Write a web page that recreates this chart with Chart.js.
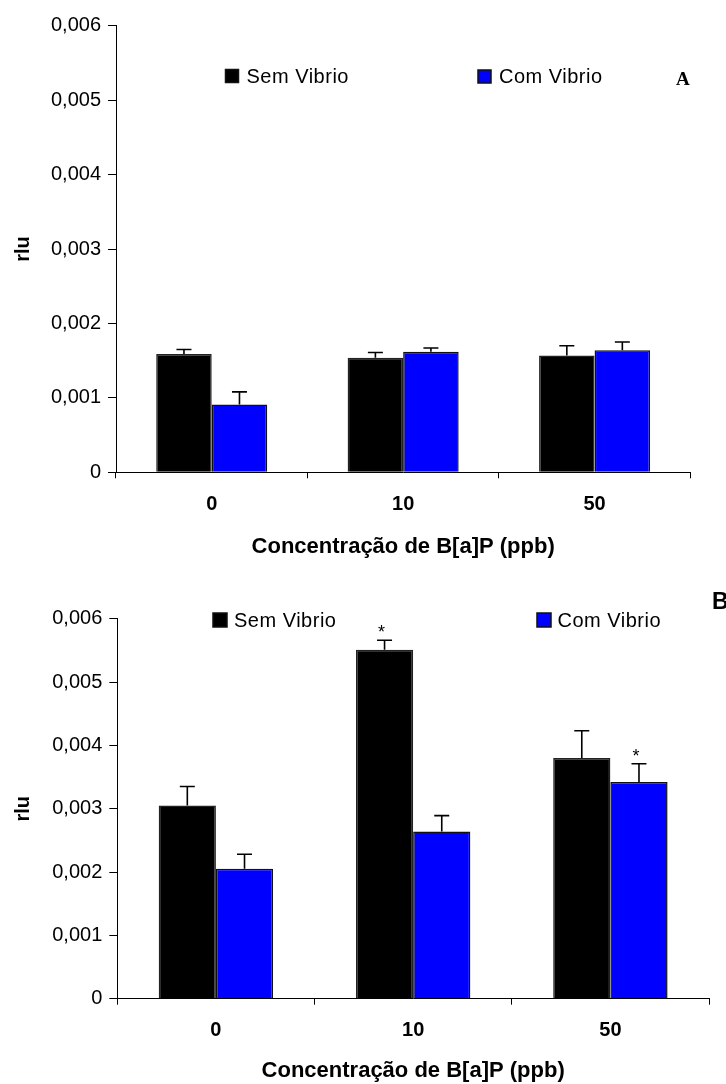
<!DOCTYPE html>
<html>
<head>
<meta charset="utf-8">
<script src="https://cdn.jsdelivr.net/npm/chart.js@4.4.1/dist/chart.umd.min.js"></script>
<style>
  html, body { margin: 0; padding: 0; background: #fff; }
  canvas { position: absolute; left: 0; }
  #chartA { top: 0; }
  #chartB { top: 560px; }
</style>
</head>
<body>
<canvas id="chartA" width="726" height="560"></canvas>
<canvas id="chartB" width="726" height="524"></canvas>
<script>
// B[a]P concentrations (ppb)
const categories = ['0', '10', '50'];
const seriesNames = ['Sem Vibrio', 'Com Vibrio'];
const yTickValues = [0, 0.001, 0.002, 0.003, 0.004, 0.005, 0.006];
const axisTitleX = 'Concentração de B[a]P (ppb)';
const axisTitleY = 'rlu';

// Panel A: means and standard errors
const semA = [0.00159, 0.00154, 0.00157];
const semAErr = [0.00006, 0.00007, 0.00013];
const comA = [0.00091, 0.00162, 0.00164];
const comAErr = [0.00017, 0.00005, 0.00011];

// Panel B: means and standard errors
const semB = [0.00305, 0.00551, 0.00380];
const semBErr = [0.00030, 0.00015, 0.00043];
const comB = [0.00205, 0.00264, 0.00342];
const comBErr = [0.00023, 0.00025, 0.00029];
// significance marks (*)
const semBSig = [false, true, false];
const comBSig = [false, false, true];

const FONT = '"Liberation Sans", Arial, sans-serif';
const BLACK = '#000000';
const BLUE = '#0000ff';

const fmtTick = v => (v === 0 ? '0' : v.toFixed(3).replace('.', ','));

// Upper error bars and significance asterisks
const errorBarPlugin = {
  id: 'errorBars',
  afterDatasetsDraw(chart) {
    const ctx = chart.ctx;
    const yScale = chart.scales.y;
    chart.data.datasets.forEach((ds, i) => {
      const meta = chart.getDatasetMeta(i);
      meta.data.forEach((bar, j) => {
        const top = yScale.getPixelForValue(ds.data[j] + ds.errors[j]);
        ctx.save();
        ctx.strokeStyle = '#000';
        ctx.lineWidth = 1.6;
        ctx.beginPath();
        ctx.moveTo(bar.x, bar.y);
        ctx.lineTo(bar.x, top);
        ctx.moveTo(bar.x - 7.5, top);
        ctx.lineTo(bar.x + 7.5, top);
        ctx.stroke();
        if (ds.signif && ds.signif[j]) {
          ctx.fillStyle = '#000';
          ctx.font = '18px ' + FONT;
          ctx.textAlign = 'center';
          ctx.textBaseline = 'alphabetic';
          ctx.fillText('*', bar.x - 3, top - 2);
        }
        ctx.restore();
      });
    });
  }
};

// Legend entries and panel letter
const decorPlugin = {
  id: 'panelDecor',
  afterDraw(chart, args, opts) {
    const ctx = chart.ctx;
    ctx.save();
    opts.legend.forEach((item, k) => {
      const color = chart.data.datasets[k].backgroundColor;
      ctx.fillStyle = color;
      ctx.fillRect(item.x, item.y, item.s, item.s);
      ctx.strokeStyle = '#111';
      ctx.lineWidth = 1.5;
      ctx.strokeRect(item.x, item.y, item.s, item.s);
      ctx.fillStyle = '#000';
      ctx.font = '20px ' + FONT;
      ctx.letterSpacing = '0.5px';
      ctx.textAlign = 'left';
      ctx.textBaseline = 'middle';
      ctx.fillText(chart.data.datasets[k].label, item.tx, item.y + item.s / 2 + 1);
      ctx.letterSpacing = '0px';
    });
    const L = opts.letter;
    ctx.fillStyle = '#000';
    ctx.font = L.font;
    ctx.textAlign = 'left';
    ctx.textBaseline = 'middle';
    ctx.fillText(L.text, L.x, L.y);
    ctx.restore();
  }
};

function makeChart(id, sem, semErr, com, comErr, semSig, comSig, L) {
  return new Chart(document.getElementById(id), {
    type: 'bar',
    data: {
      labels: categories,
      datasets: [
        { label: seriesNames[0], data: sem, errors: semErr, signif: semSig,
          backgroundColor: BLACK, borderColor: '#222', borderWidth: 1.5,
          categoryPercentage: 0.58, barPercentage: 1.0 },
        { label: seriesNames[1], data: com, errors: comErr, signif: comSig,
          backgroundColor: BLUE, borderColor: '#111', borderWidth: 1.5,
          categoryPercentage: 0.58, barPercentage: 1.0 }
      ]
    },
    options: {
      responsive: false,
      animation: false,
      devicePixelRatio: 1,
      layout: { padding: { top: L.top, right: L.right, left: 0, bottom: 0 } },
      plugins: {
        legend: { display: false },
        tooltip: { enabled: false },
        panelDecor: { legend: L.legend, letter: L.letter }
      },
      scales: {
        x: {
          offset: true,
          grid: { offset: true, drawOnChartArea: false, tickLength: 6, color: '#000', lineWidth: 1 },
          border: { color: '#000', width: 1 },
          ticks: { color: '#000', padding: 14, font: { family: FONT, size: 20, weight: 'bold' } },
          title: { display: true, text: axisTitleX, color: '#000',
                   font: { family: FONT, size: 22, weight: 'bold' }, padding: { top: 0, bottom: 0 } },
          afterFit: s => { s.height = L.xh; }
        },
        y: {
          min: 0, max: 0.006,
          afterBuildTicks: s => { s.ticks = yTickValues.map(v => ({ value: v })); },
          grid: { drawOnChartArea: false, tickLength: 8, color: '#000', lineWidth: 1 },
          border: { color: '#000', width: 1 },
          ticks: { color: '#000', padding: 7, font: { family: FONT, size: 20 }, callback: fmtTick },
          title: { display: true, text: axisTitleY, color: '#000',
                   font: { family: FONT, size: 20, weight: 'bold' }, padding: { top: 11, bottom: 0 } },
          afterFit: s => { s.width = L.yw; }
        }
      }
    },
    plugins: [errorBarPlugin, decorPlugin]
  });
}

makeChart('chartA', semA, semAErr, comA, comAErr, [false, false, false], [false, false, false], {
  top: 25.7, right: 35.7, yw: 116, xh: 87.7,
  legend: [
    { x: 225.5, y: 69.5, s: 13, tx: 246.5 },
    { x: 478, y: 70, s: 13, tx: 499 }
  ],
  letter: { text: 'A', x: 676, y: 80, font: 'bold 19px "Liberation Serif", "Times New Roman", serif' }
});

makeChart('chartB', semB, semBErr, comB, comBErr, semBSig, comBSig, {
  top: 58.7, right: 17, yw: 117.3, xh: 85.3,
  legend: [
    { x: 213, y: 53, s: 14, tx: 234 },
    { x: 537, y: 53, s: 14, tx: 557.5 }
  ],
  letter: { text: 'B', x: 712, y: 43, font: 'bold 23px ' + FONT }
});
</script>
</body>
</html>
